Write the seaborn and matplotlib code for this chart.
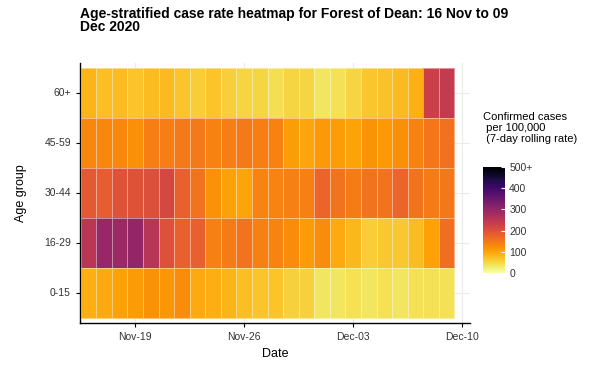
import numpy as np
import pandas as pd
import matplotlib
matplotlib.use("Agg")
import matplotlib.pyplot as plt
import seaborn as sns

# 16 Nov .. 09 Dec 2020
dates = pd.date_range("2020-11-16", "2020-12-09", freq="D")
age_groups = ["60+", "45-59", "30-44", "16-29", "0-15"]

rate_60 = [85, 75, 78, 70, 78, 80, 70, 60, 70, 58, 52, 52,
           42, 52, 52, 35, 40, 52, 68, 72, 80, 88, 230, 240]
rate_45 = [132, 132, 132, 122, 142, 142, 148, 148, 138, 142, 148, 142,
           138, 108, 98, 112, 108, 102, 118, 112, 122, 138, 152, 158]
rate_30 = [188, 183, 198, 198, 203, 213, 178, 155, 120, 105, 100, 135,
           135, 140, 140, 172, 155, 145, 155, 155, 172, 155, 145, 150]
rate_16 = [250, 295, 290, 300, 255, 200, 178, 178, 140, 145, 155, 140,
           135, 125, 110, 125, 95, 82, 60, 65, 65, 78, 105, 162]
rate_0 = [90, 95, 105, 110, 120, 115, 125, 95, 90, 85, 75, 70,
          70, 55, 55, 35, 35, 40, 35, 40, 35, 40, 40, 40]

tick_dates = ["2020-11-19", "2020-11-26", "2020-12-03", "2020-12-10"]
tick_labels = ["Nov-19", "Nov-26", "Dec-03", "Dec-10"]

df = pd.DataFrame([rate_60, rate_45, rate_30, rate_16, rate_0],
                  index=age_groups, columns=dates)

plt.rcParams["font.family"] = ["Liberation Sans", "DejaVu Sans"]

fig = plt.figure(figsize=(5.89, 3.65), dpi=100)
ax = fig.add_axes([80 / 589, 42 / 365, 390 / 589, 260 / 365])
cax = fig.add_axes([483 / 589, 92 / 365, 22 / 589, 106 / 365])

# background grid (ggplot-like)
for i in range(len(age_groups)):
    ax.axhline(i + 0.5, color="#ebebeb", lw=0.8, zorder=0)
tick_pos = [(pd.Timestamp(d) - dates[0]).days + 0.5 for d in tick_dates]
for p in tick_pos:
    ax.axvline(p, color="#ebebeb", lw=0.8, zorder=0)

sns.heatmap(df, ax=ax, cbar_ax=cax, cmap="inferno_r", vmin=0, vmax=500,
            linewidths=0.4, linecolor=(1, 1, 1, 0.45))

ax.set_xlim(-0.05, 25)
ax.set_ylim(5.1, -0.1)
ax.set_xticks(tick_pos)
ax.set_xticklabels(tick_labels, rotation=0)
ax.set_yticks([i + 0.5 for i in range(len(age_groups))])
ax.set_yticklabels(age_groups, rotation=0)
ax.tick_params(axis="both", labelsize=7.5, colors="black",
               labelcolor="#333333", length=3, width=0.8)
for side in ["left", "bottom"]:
    ax.spines[side].set_visible(True)
    ax.spines[side].set_color("black")
    ax.spines[side].set_linewidth(1.0)
ax.set_xlabel("Date", fontsize=9)
ax.set_ylabel("Age group", fontsize=9, labelpad=12)

cax.set_yticks([0, 100, 200, 300, 400, 500])
cax.set_yticklabels(["0", "100", "200", "300", "400", "500+"])
cax.tick_params(labelsize=7.5, colors="white", labelcolor="#333333",
                length=3, direction="in", pad=3)
for s in cax.spines.values():
    s.set_visible(False)

fig.text(483 / 589, 1 - 112 / 365,
         "Confirmed cases\n per 100,000\n (7-day rolling rate)",
         fontsize=8, va="top", ha="left", linespacing=1.1)

fig.text(80 / 589, 1 - 7 / 365,
         "Age-stratified case rate heatmap for Forest of Dean: 16 Nov to 09\nDec 2020",
         fontsize=10, fontweight="bold", va="top", ha="left", linespacing=0.95)

fig.savefig("out.png", dpi=100)
